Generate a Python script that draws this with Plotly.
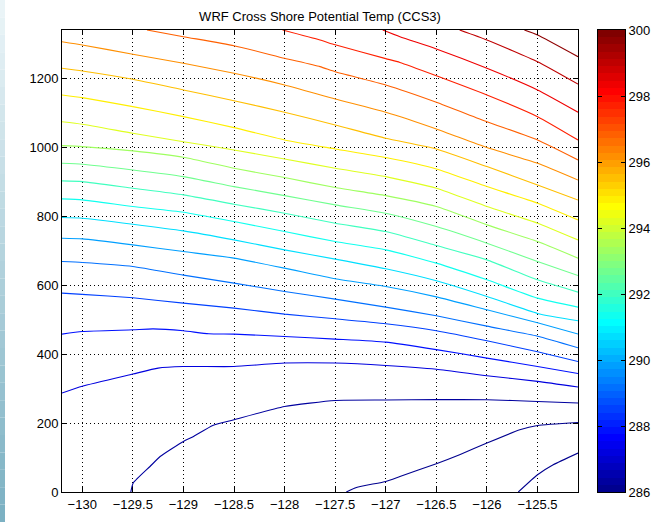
import math
import plotly.graph_objects as go

# ---------------- data ----------------
CMIN, CMAX = 286, 300
CBAR_TICKS = [286, 288, 290, 292, 294, 296, 298, 300]
X_TICKS = [-130, -129.5, -129, -128.5, -128, -127.5, -127, -126.5, -126, -125.5]
Y_TICKS = [0, 200, 400, 600, 800, 1000, 1200]
X_RANGE = [-130.2, -125.1]
Y_RANGE = [0, 1340]

# common longitudes where most contour lines were read
cols = [-130.2, -130.0, -129.5, -129.0, -128.5, -128.0, -127.5, -127.0, -126.5, -126.0, -125.5, -125.1]

# contour levels (potential temperature, K), bottom to top
levels = {
    "L8": 285.0, "L7": 285.7, "L6": 286.4, "L5": 287.1, "L4": 287.8, "L3": 288.5,
    "L2": 289.2, "K": 289.9, "J": 290.6, "I": 291.3, "H": 292.0, "G": 292.7,
    "F": 293.4, "E": 294.1, "D": 294.8, "C": 295.5, "B": 296.2, "A": 296.9,
    "R1": 297.6, "R2": 298.3, "R3": 299.0, "R4": 299.7,
}

# heights (m) of the contour lines spanning the whole section, at `cols`
height_B = [1306, 1296.6, 1269.6, 1243.5, 1214.5, 1180.6, 1140, 1101.5, 1053, 999, 953.6, 905]
height_C = [1229, 1221, 1197, 1166, 1135, 1101.5, 1064.6, 1026, 995, 943.8, 890.7, 847]
height_D = [1151.6, 1143.8, 1117.7, 1088.7, 1056.8, 1021, 995, 970, 937, 885.8, 837.7, 789.3]
height_E = [1074, 1066.7, 1040.6, 1016, 992, 966, 939, 914.8, 881, 828, 779.7, 731]
height_F = [1004.7, 1001.8, 989.3, 971, 939, 912, 883, 859.7, 828, 774.8, 726.4, 678.3]
height_G = [953.6, 950.7, 934, 914.8, 885.8, 859.7, 832.8, 808.7, 769.9, 721.7, 668.4, 627.8]
height_H = [902.3, 900.3, 881, 861.8, 834.8, 808.7, 779.7, 755.4, 714.8, 673.3, 615.4, 579.7]
height_I = [850.2, 847.3, 828, 811.6, 784.4, 755.4, 726.4, 702.3, 663.8, 615.4, 562.3, 536.2]
height_J = [796, 794.2, 776.8, 757.4, 731.3, 702.3, 675.4, 647.3, 612.5, 567, 518, 496.5]
height_K = [736.2, 734.2, 716.8, 697.4, 678.3, 649.3, 618.3, 596, 566, 528.4, 490.7, 458]
height_L2 = [668.4, 665.5, 654, 629, 605.8, 581.5, 559.4, 536.2, 511, 481, 452, 418.5]
height_L3 = [576.8, 573.3, 563.2, 547.8, 533.3, 516, 502.3, 487.8, 467.6, 438.6, 406.7, 378.6]

# lines with their own sample longitudes
lon_L4 = [-130.2, -130.0, -129.5, -129.3, -129.0, -128.75, -128.5, -128.0, -127.5, -127.0, -126.5, -126.0, -125.5, -125.1]
height_L4 = [458, 465.5, 470.4, 473, 467.5, 459, 458, 451, 443.5, 434.8, 413, 388.4, 364, 343.8]

lon_L5 = [-130.2, -130.0, -129.5, -129.25, -129.0, -128.5, -128.0, -127.5, -127.0, -126.5, -126.0, -125.5, -125.1]
height_L5 = [287, 306.7, 342, 359.4, 364, 364, 374, 374, 367, 356, 337, 321, 304.4]

lon_L6 = [-129.52, -129.496, -129.33, -129.23, -129.0, -128.9, -128.71, -128.5, -128.0, -127.5, -127.0, -126.5, -126.0, -125.5, -125.1]
height_L6 = [0, 26, 74, 103, 146.7, 161, 193, 209.6, 248, 265.5, 266.7, 268, 267.5, 262.6, 258]

lon_L7 = [-127.39, -127.29, -127.0, -126.86, -126.5, -126.27, -126.0, -125.675, -125.5, -125.1]
height_L7 = [0, 13.3, 30.7, 45, 82, 108, 142, 180.5, 193, 201.7]

lon_L8 = [-125.69, -125.5, -125.345, -125.1]
height_L8 = [0, 50, 79, 113]

lon_A = [-129.36, -129.0, -128.5, -128.0, -127.65, -127.5, -127.0, -126.5, -126.0, -125.5, -125.1]
height_A = [1340, 1320.6, 1294.5, 1258, 1233.7, 1219, 1180.6, 1130.5, 1074, 1021, 963.2]

lon_R1 = [-128.02, -127.65, -127.5, -127.0, -126.86, -126.5, -126.0, -125.5, -125.1]
height_R1 = [1340, 1311, 1297, 1257, 1246, 1207.5, 1151.6, 1088.7, 1021]

lon_R2 = [-127.03, -126.86, -126.5, -126.0, -125.5, -125.1]
height_R2 = [1340, 1320.6, 1285, 1229, 1166, 1101.5]

lon_R3 = [-126.27, -126.0, -125.5, -125.1]
height_R3 = [1340, 1311, 1248, 1183]

lon_R4 = [-125.63, -125.5, -125.1]
height_R4 = [1340, 1325.5, 1262.6]

TITLE = "WRF Cross Shore Potential Temp (CCS3)"

# ---------------- styling helpers ----------------
def jet(n=64):
    m = math.ceil(n / 4)
    u = [i / m for i in range(1, m + 1)] + [1.0] * (m - 1) + [i / m for i in range(m, 0, -1)]
    g0 = math.ceil(m / 2) - (1 if n % 4 == 1 else 0)
    J = [[0.0, 0.0, 0.0] for _ in range(n)]
    for k in range(len(u)):
        gi = g0 + k + 1
        ri, bi = gi + m, gi - m
        if 1 <= ri <= n:
            J[ri - 1][0] = u[k]
        if 1 <= gi <= n:
            J[gi - 1][1] = u[k]
        if 1 <= bi <= n:
            J[bi - 1][2] = u[k]
    return J

JET = jet(64)
NC = len(JET)

def rgb(c):
    return "rgb(%d,%d,%d)" % tuple(round(v * 255) for v in c)

def level_color(v):
    idx = int(math.floor((v - CMIN) / (CMAX - CMIN) * NC))
    idx = max(0, min(NC - 1, idx))
    return rgb(JET[idx])

colorscale = []
for i, c in enumerate(JET):
    colorscale.append([i / NC, rgb(c)])
    colorscale.append([(i + 1) / NC, rgb(c)])

# ---------------- layout geometry ----------------
W, H = 651, 522
ML, MR, MT, MB = 62, 26, 30, 30
PW, PH = W - ML - MR, H - MT - MB        # paper area (main plot + colour bar)
MAIN_R = 578                             # right edge of main axes (px)
CB_L, CB_R = 598, 625                    # colour bar edges (px)
FONT = "Liberation Sans, Arial, sans-serif"

def px_to_paper_x(px):
    return (px - ML) / PW

def py_to_paper_y(py):
    return (H - MB - py) / PH

# ---------------- figure ----------------
series = [
    ("L8", lon_L8, height_L8), ("L7", lon_L7, height_L7), ("L6", lon_L6, height_L6),
    ("L5", lon_L5, height_L5), ("L4", lon_L4, height_L4), ("L3", cols, height_L3),
    ("L2", cols, height_L2), ("K", cols, height_K), ("J", cols, height_J),
    ("I", cols, height_I), ("H", cols, height_H), ("G", cols, height_G),
    ("F", cols, height_F), ("E", cols, height_E), ("D", cols, height_D),
    ("C", cols, height_C), ("B", cols, height_B), ("A", lon_A, height_A),
    ("R1", lon_R1, height_R1), ("R2", lon_R2, height_R2), ("R3", lon_R3, height_R3),
    ("R4", lon_R4, height_R4),
]

fig = go.Figure()
for name, xs, ys in series:
    fig.add_trace(go.Scatter(
        x=xs, y=ys, mode="lines", xaxis="x", yaxis="y",
        line=dict(color=level_color(levels[name]), width=1.1, shape="spline", smoothing=0.5),
        hoverinfo="skip", showlegend=False,
    ))

# colour bar drawn as a one-column heatmap of the colormap cells
cb_centers = [CMIN + (i + 0.5) * (CMAX - CMIN) / NC for i in range(NC)]
fig.add_trace(go.Heatmap(
    z=[[v] for v in cb_centers], x=[0], y=cb_centers,
    colorscale=colorscale, zmin=CMIN, zmax=CMAX, showscale=False,
    xaxis="x2", yaxis="y2", hoverinfo="skip",
))

tickfont = dict(family=FONT, size=13, color="black")
axis_common = dict(
    showline=True, linecolor="black", linewidth=1, mirror="ticks",
    ticks="inside", ticklen=5, tickcolor="black", tickwidth=1,
    showgrid=True, gridcolor="black", gridwidth=1, griddash="1px,3px",
    zeroline=False, tickfont=tickfont,
)

# decorative screenshot strip on the far left (vertical gradient)
shapes = []
nseg = 30
top_c = (236, 245, 248)
bot_c = (122, 176, 194)
for i in range(nseg):
    t = (i + 0.5) / nseg
    c = tuple(round(top_c[k] + (bot_c[k] - top_c[k]) * t) for k in range(3))
    shapes.append(dict(
        type="rect", xref="paper", yref="paper", layer="below",
        x0=px_to_paper_x(0), x1=px_to_paper_x(5),
        y0=py_to_paper_y(H * (i + 1) / nseg), y1=py_to_paper_y(H * i / nseg),
        fillcolor="rgb(%d,%d,%d)" % c, line=dict(width=0),
    ))

fig.update_layout(
    width=W, height=H,
    margin=dict(l=ML, r=MR, t=MT, b=MB, autoexpand=False),
    paper_bgcolor="white", plot_bgcolor="white",
    title=dict(text=TITLE, x=(ML + MAIN_R) / 2 / W, xanchor="center", xref="container",
               y=1 - 16 / H, yanchor="middle", yref="container",
               font=dict(family=FONT, size=13, color="black")),
    xaxis=dict(domain=[0, px_to_paper_x(MAIN_R)], range=X_RANGE, tickvals=X_TICKS,
               anchor="y", **axis_common),
    yaxis=dict(domain=[0, 1], range=Y_RANGE, tickvals=Y_TICKS, anchor="x", **axis_common),
    xaxis2=dict(domain=[px_to_paper_x(CB_L), px_to_paper_x(CB_R)], range=[-0.5, 0.5],
                anchor="y2", showline=True, linecolor="black", linewidth=1, mirror=True,
                ticks="", showticklabels=False, showgrid=False, zeroline=False),
    yaxis2=dict(domain=[0, 1], range=[CMIN, CMAX], anchor="x2", side="right",
                tickvals=CBAR_TICKS, showline=True, linecolor="black", linewidth=1,
                mirror="ticks", ticks="inside", ticklen=4, tickcolor="black",
                showgrid=False, zeroline=False, tickfont=tickfont),
    shapes=shapes,
)

fig.write_html("out.html")
